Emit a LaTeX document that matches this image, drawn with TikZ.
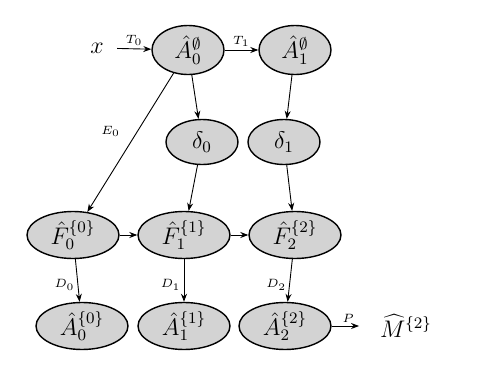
\documentclass[tikz,border=0pt]{standalone}
\usepackage{tikz}
\usetikzlibrary{arrows.meta, shapes.geometric}
\usepackage{xcolor}
\definecolor{nodegray}{HTML}{D3D3D3}

\tikzset{
  est/.style={ellipse, draw=black, line width=0.7pt, fill=nodegray, inner sep=0pt,
    minimum width=36pt, minimum height=24.5pt, font=\large},
  wide/.style={est, minimum width=46pt, minimum height=23.5pt},
  flow/.style={-{Stealth[length=4pt, width=3pt]}, line width=0.45pt},
  lbl/.style={font=\fontsize{6}{7}\selectfont, inner sep=1.5pt}
}

\begin{document}
\begin{tikzpicture}[x=0.5pt, y=0.5pt]
  \useasboundingbox (0,0) rectangle (479,377);

  % Top row
  \node[font=\large, inner sep=6.5pt] (x) at (97,329) {$x$};
  \node[est] (A0e) at (188,327) {$\hat{A}^{\emptyset}_0$};
  \node[est] (A1e) at (295,327) {$\hat{A}^{\emptyset}_1$};

  % Deltas
  \node[est, minimum height=22.5pt] (d0) at (202,235) {$\delta_0$};
  \node[est, minimum height=22.5pt] (d1) at (284,235) {$\delta_1$};

  % F row
  \node[wide] (F0) at (73,142) {$\hat{F}^{\{0\}}_0$};
  \node[wide] (F1) at (184,142) {$\hat{F}^{\{1\}}_1$};
  \node[wide] (F2) at (295,142) {$\hat{F}^{\{2\}}_2$};

  % Bottom row
  \node[wide] (B0) at (82,51) {$\hat{A}^{\{0\}}_0$};
  \node[wide] (B1) at (184,51) {$\hat{A}^{\{1\}}_1$};
  \node[wide] (B2) at (285,51) {$\hat{A}^{\{2\}}_2$};
  \node[font=\large] (M) at (406,51) {$\widehat{M}^{\{2\}}$};

  % Connectors
  \draw[flow] (x) -- node[lbl, above] {$T_0$} (A0e);
  \draw[flow] (A0e) -- node[lbl, above] {$T_1$} (A1e);
  \draw[flow] (A0e) -- node[lbl, pos=0.42, left=7pt] {$E_0$} (F0);
  \draw[flow] (A0e) -- (d0);
  \draw[flow] (A1e) -- (d1);
  \draw[flow] (d0) -- (F1);
  \draw[flow] (d1) -- (F2);
  \draw[flow] (F0) -- (F1);
  \draw[flow] (F1) -- (F2);
  \draw[flow] (F0) -- node[lbl, pos=0.6, left] {$D_0$} (B0);
  \draw[flow] (F1) -- node[lbl, pos=0.6, left] {$D_1$} (B1);
  \draw[flow] (F2) -- node[lbl, pos=0.6, left] {$D_2$} (B2);
  \draw[flow, shorten >=7pt] (B2) -- node[lbl, above, pos=0.4] {$P$} (M);
\end{tikzpicture}
\end{document}
